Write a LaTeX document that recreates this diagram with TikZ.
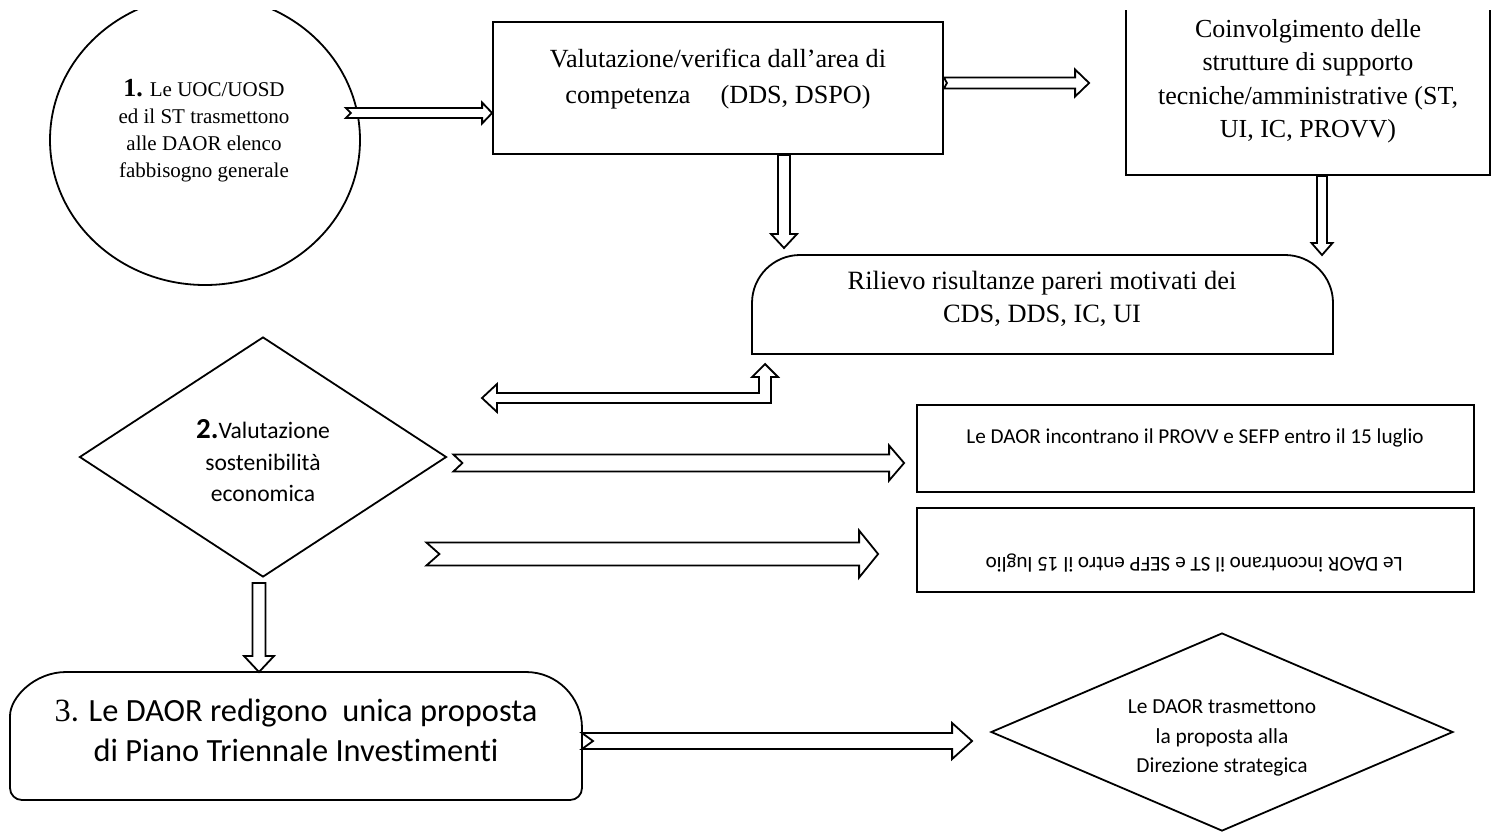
\documentclass[tikz,border=0pt]{standalone}
\usepackage{fontspec}
\setmainfont{Liberation Serif}
\newfontfamily\carlito[Ligatures={NoCommon}]{Carlito}
\usetikzlibrary{shapes.geometric,calc}

\tikzset{
  box/.style={draw=black, line width=0.9pt, inner sep=0pt},
  outline/.style={draw=black, line width=0.9pt},
  fat/.style={draw=black, line width=0.9pt, fill=white, line join=miter},
  txt/.style={align=center, inner sep=0pt},
}

% hollow arrow to the right: tail, tip, half bar, half head, head length, notch
\newcommand{\rarrow}[6]{%
  \draw[fat] let \p1=(#1), \p2=(#2) in
    (\x1,\y1+#3) -- (\x2-#5,\y1+#3) -- (\x2-#5,\y1+#4) -- (\x2,\y1)
    -- (\x2-#5,\y1-#4) -- (\x2-#5,\y1-#3) -- (\x1,\y1-#3) -- (\x1+#6,\y1) -- cycle;}
% hollow arrow downwards: tail, tip, half bar, half head, head length
\newcommand{\darrow}[5]{%
  \draw[fat] let \p1=(#1), \p2=(#2) in
    (\x1-#3,\y1) -- (\x1+#3,\y1) -- (\x1+#3,\y2+#5) -- (\x1+#4,\y2+#5) -- (\x1,\y2)
    -- (\x1-#4,\y2+#5) -- (\x1-#3,\y2+#5) -- cycle;}

\begin{document}
\begin{tikzpicture}[x=0.5pt, y=-0.5pt]
  \useasboundingbox (0,0) rectangle (1491,831);
  \clip (0,10) rectangle (1491,831);

  % boxes
  \node[box, ellipse, minimum width=155pt, minimum height=145pt] (ell) at (205,140) {};
  \node[box, minimum width=225pt, minimum height=66pt] (val) at (718,88) {};
  \node[box, minimum width=182pt, minimum height=97.5pt] (coin) at (1308,77.5) {};
  \node[inner sep=0pt, outer sep=0pt, minimum width=290.5pt, minimum height=49.5pt] (ril) at (1042.5,304.5) {};
  \draw[outline] (ril.south west) -- ([yshift=-24pt]ril.north west)
    arc[start angle=180, end angle=90, radius=24pt] -- ([xshift=-24pt]ril.north east)
    arc[start angle=90, end angle=0, radius=24pt] -- (ril.south east) -- cycle;
  \node[box, diamond, aspect=1.53, minimum width=183.5pt, minimum height=120pt] (dia) at (263,457) {};
  \node[box, minimum width=278.5pt, minimum height=43.5pt] (provv) at (1195.5,448.5) {};
  \node[box, minimum width=278.5pt, minimum height=42pt] (st) at (1195.5,550) {};
  \node[inner sep=0pt, outer sep=0pt, minimum width=286pt, minimum height=64pt] (pro) at (296,736) {};
  \draw[outline] ([yshift=-28pt]pro.north west)
    arc[start angle=180, end angle=90, radius=28pt] -- ([xshift=-28pt]pro.north east)
    arc[start angle=90, end angle=0, radius=28pt] [rounded corners=6pt]
    -- (pro.south east) -- (pro.south west) -- cycle;
  \node[box, diamond, aspect=2.33, minimum width=231pt, minimum height=99pt] (dir) at (1222,732) {};

  % texts
  \node[txt, font=\fontsize{10.5}{13.5}\selectfont] (elltxt) at (204,131)
    {{\fontsize{13}{13.5}\selectfont\bfseries 1.} Le UOC/UOSD\\ed il ST trasmettono\\alle DAOR elenco\\fabbisogno generale};
  \node[txt, font=\fontsize{13.1}{18}\selectfont] (valtxt) at (718,79)
    {Valutazione/verifica dall'area di\\competenza\hspace{15pt}(DDS, DSPO)};
  \node[txt, font=\fontsize{13}{16.75}\selectfont] (cointxt) at (1308,81)
    {Coinvolgimento delle\\strutture di supporto\\tecniche/amministrative (ST,\\UI, IC, PROVV)};
  \node[txt, font=\fontsize{13.2}{16.5}\selectfont] (riltxt) at (1042,299)
    {Rilievo risultanze pareri motivati dei\\CDS, DDS, IC, UI};
  \node[txt, font=\carlito\fontsize{11.8}{15.75}\selectfont] (diatxt) at (263,461)
    {{\fontsize{14.5}{15}\selectfont\bfseries 2.}Valutazione\\sostenibilità\\economica};
  \node[txt, font=\carlito\fontsize{10.6}{13}\selectfont] (provvtxt) at (1195,438)
    {Le DAOR incontrano il PROVV e SEFP entro il 15 luglio};
  \node[txt, font=\carlito\fontsize{10.6}{13}\selectfont, rotate=180] (sttxt) at (1194,563)
    {Le DAOR incontrano il ST e SEFP entro il 15 luglio};
  \node[txt, font=\carlito\fontsize{16.2}{20}\selectfont] (protxt) at (296,730)
    {{\rmfamily 3}. Le DAOR redigono~ unica proposta\\di Piano Triennale Investimenti};
  \node[txt, font=\carlito\fontsize{10.7}{14.7}\selectfont] (dirtxt) at (1222,738)
    {Le DAOR trasmettono\\la proposta alla\\Direzione strategica};

  % arrows
  \coordinate (t1) at ($(ell.east)+(-15,-27)$);
  \rarrow{t1}{val.west |- t1}{2.5pt}{5.25pt}{5pt}{2.5pt}
  \rarrow{[yshift=2.5pt]val.east}{[xshift=-18pt]coin.west}{2.75pt}{6.75pt}{7pt}{1.5pt}
  \darrow{[xshift=33pt]val.south}{[yshift=3.5pt]ril.north}{3pt}{6.5pt}{7pt}
  \darrow{[xshift=7pt]coin.south}{ril.north}{2.5pt}{5.25pt}{6pt}
  \coordinate (lt) at (482,398);
  \coordinate (ut) at ([xshift=6.5pt,yshift=-5pt]ril.south west);
  \draw[fat] let \p1=(lt), \p2=(ut) in
    (\x1,\y1) -- (\x1+7.5pt,\y1+7pt) -- (\x1+7.5pt,\y1+2.5pt) -- (\x2-3pt,\y1+2.5pt)
    -- (\x2-3pt,\y2-6.5pt) -- (\x2-6.5pt,\y2-6.5pt) -- (\x2,\y2) -- (\x2+6.5pt,\y2-6.5pt)
    -- (\x2+3pt,\y2-6.5pt) -- (\x2+3pt,\y1-2.5pt) -- (\x1+7.5pt,\y1-2.5pt)
    -- (\x1+7.5pt,\y1-7pt) -- cycle;
  \rarrow{[xshift=3pt,yshift=-3pt]dia.east}{[xshift=-6pt]provv.west}{4.25pt}{8.75pt}{7.5pt}{4.5pt}
  \rarrow{[xshift=-10.5pt,yshift=-48.5pt]dia.east}{[xshift=-19pt]st.west}{5.75pt}{11.75pt}{9.5pt}{6.5pt}
  \darrow{[xshift=-2pt,yshift=-2.5pt]dia.south}{pro.north}{3.25pt}{7.5pt}{8pt}
  \rarrow{[yshift=-2.5pt]pro.east}{[xshift=-9pt]dir.west}{4pt}{9pt}{10pt}{5.5pt}
\end{tikzpicture}
\end{document}
